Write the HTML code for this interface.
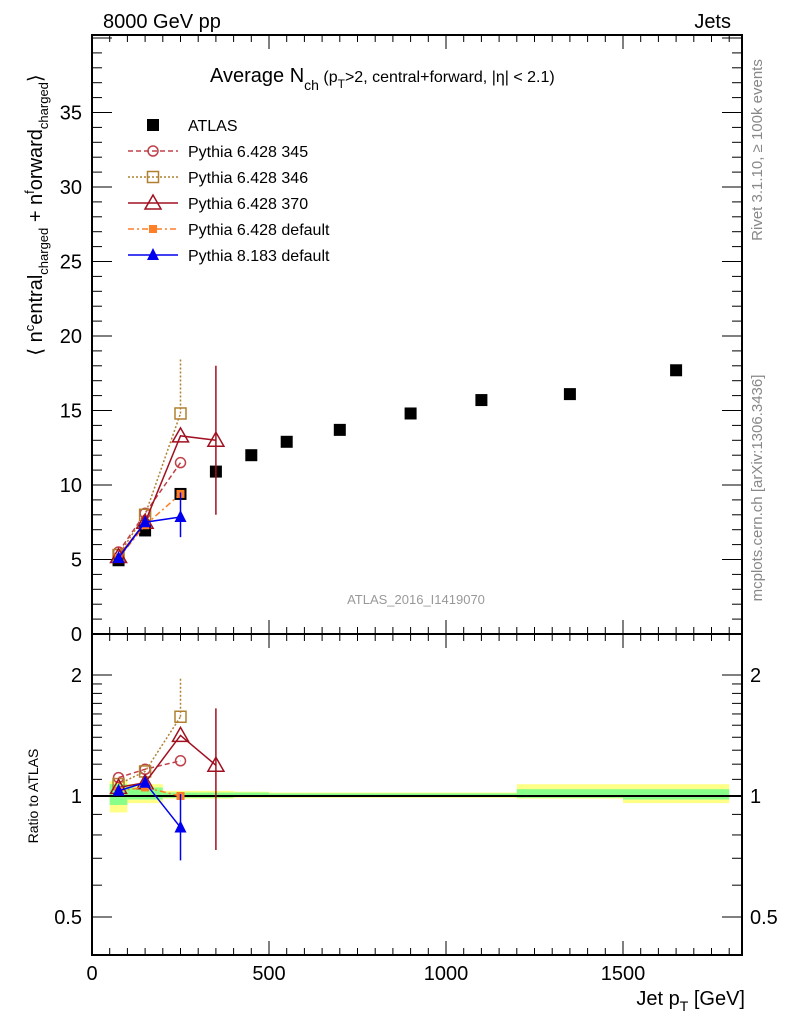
<!DOCTYPE html>
<html><head><meta charset="utf-8"><style>
body{margin:0;background:#fff;font-family:"Liberation Sans",sans-serif}
svg text{font-family:"Liberation Sans",sans-serif}
</style></head><body>
<svg id="c" width="786" height="1024" xmlns="http://www.w3.org/2000/svg">
<text x="103" y="28" font-size="20">8000 GeV pp</text>
<text x="731" y="28" font-size="20" text-anchor="end">Jets</text>
<text x="210" y="82" font-size="20">Average N<tspan font-size="14" dy="8">ch</tspan><tspan font-size="16" dy="-8"> (p</tspan><tspan font-size="12" dy="6">T</tspan><tspan font-size="16" dy="-6">&gt;2, central+forward, |η| &lt; 2.1)</tspan></text>
<text transform="translate(762,150) rotate(-90)" font-size="15" fill="#888" text-anchor="middle">Rivet 3.1.10, ≥ 100k events</text>
<text transform="translate(762,488) rotate(-90)" font-size="15" fill="#888" text-anchor="middle">mcplots.cern.ch [arXiv:1306.3436]</text>
<text x="416" y="604" font-size="13" fill="#999" text-anchor="middle">ATLAS_2016_I1419070</text>
<text transform="translate(42,215) rotate(-90)" font-size="20" text-anchor="middle">⟨ n<tspan font-size="13" dy="-8">c</tspan><tspan dy="8">entral</tspan><tspan font-size="13" dy="6">charged</tspan><tspan dy="-6"> + n</tspan><tspan font-size="13" dy="-8">f</tspan><tspan dy="8">orward</tspan><tspan font-size="13" dy="6">charged</tspan><tspan dy="-6">⟩</tspan></text>
<text transform="translate(38,796) rotate(-90)" font-size="14" text-anchor="middle">Ratio to ATLAS</text>
<text x="745" y="1005" font-size="20" text-anchor="end">Jet p<tspan font-size="14" dy="6">T</tspan><tspan dy="-6"> [GeV]</tspan></text>
<g id="g"></g>
</svg>
<script>
const xBins=[50,100,200,300,400,500,600,800,1000,1200,1500,1800];
const atlasX=[75,150,250,350,450,550,700,900,1100,1350,1650];
const atlasY=[4.95,6.95,9.4,10.9,12.0,12.9,13.7,14.8,15.7,16.1,17.7];
const bandGreenLo=[0.95,0.98,0.99,0.99,0.995,0.995,0.995,0.995,0.995,0.99,0.98];
const bandGreenHi=[1.07,1.05,1.02,1.02,1.02,1.015,1.015,1.015,1.015,1.04,1.04];
const bandYellowLo=[0.91,0.96,0.985,0.985,0.99,0.99,0.99,0.99,0.99,0.985,0.96];
const bandYellowHi=[1.09,1.07,1.03,1.03,1.025,1.02,1.02,1.02,1.02,1.07,1.07];
const mcX=[75,150,250,350];
const p345=[5.5,8.1,11.5];
const p346=[5.3,8.0,14.8];
const p346ErrHi=[null,null,18.5];
const p370=[5.2,7.5,13.3,13.0];
const p370ErrLo=[null,null,null,8.0];
const p370ErrHi=[null,null,null,18.0];
const p6def=[5.1,7.3,9.4];
const p8def=[5.1,7.5,7.85];
const p8ErrLo=[null,null,6.5];
const p8ErrHi=[null,null,9.5];
const yTicks=[0,5,10,15,20,25,30,35];
const rTicks=[0.5,1,2];
const xTicks=[0,500,1000,1500];

const L=92,R=742,T=35,MB=634,RB=955;
const X=v=>L+v*0.354;
const Y=v=>MB-v*14.9;
const RY=r=>796-Math.log2(r)*121;
const NS="http://www.w3.org/2000/svg";
const g=document.getElementById('g');
function el(t,a,name){const e=document.createElementNS(NS,t);for(const k in a)e.setAttribute(k,a[k]);


g.appendChild(e);return e;}
for(let i=0;i<atlasX.length;i++){
 el('rect',{x:X(xBins[i]),y:RY(bandYellowHi[i]),width:X(xBins[i+1])-X(xBins[i]),height:RY(bandYellowLo[i])-RY(bandYellowHi[i]),fill:'#ffff88'},'band-yellow');
 el('rect',{x:X(xBins[i]),y:RY(bandGreenHi[i]),width:X(xBins[i+1])-X(xBins[i]),height:RY(bandGreenLo[i])-RY(bandGreenHi[i]),fill:'#88ff88'},'band-green');
}
el('line',{x1:L,x2:R,y1:RY(1),y2:RY(1),stroke:'#000','stroke-width':2},'ratio-unity-line');
el('rect',{x:L,y:T,width:R-L,height:MB-T,fill:'none',stroke:'#000','stroke-width':2},'main-frame');
el('rect',{x:L,y:MB,width:R-L,height:RB-MB,fill:'none',stroke:'#000','stroke-width':2},'ratio-frame');
for(let v=0;v<=1800;v+=50){const maj=v%500==0;const len=maj?14:7;
 for(const [yb,yt] of [[MB,T],[RB,MB]]){
  el('line',{x1:X(v),x2:X(v),y1:yb,y2:yb-len,stroke:'#000'},'x-tick');
  el('line',{x1:X(v),x2:X(v),y1:yt,y2:yt+len,stroke:'#000'},'x-tick');}}
xTicks.forEach(v=>{const t=el('text',{x:X(v),y:980,'font-size':20,'text-anchor':'middle'},'x-tick-label');t.textContent=v;});
for(let v=0;v<=40;v++){const maj=v%5==0;const len=maj?20:10;if(Y(v)<T)break;
 el('line',{x1:L,x2:L+len,y1:Y(v),y2:Y(v),stroke:'#000'},'y-tick');
 el('line',{x1:R,x2:R-len,y1:Y(v),y2:Y(v),stroke:'#000'},'y-tick');}
yTicks.forEach(v=>{const t=el('text',{x:82,y:Y(v)+7,'font-size':20,'text-anchor':'end'},'y-tick-label');t.textContent=v;});
const rminor=[0.4,0.5,0.6,0.7,0.8,0.9,1,1.1,1.2,1.3,1.4,1.5,1.6,1.7,1.8,1.9,2];
rminor.forEach(r=>{const y=RY(r);if(y<MB||y>RB)return;const maj=rTicks.includes(r);const len=maj?20:10;
 el('line',{x1:L,x2:L+len,y1:y,y2:y,stroke:'#000'},'ratio-tick');
 el('line',{x1:R,x2:R-len,y1:y,y2:y,stroke:'#000'},'ratio-tick');});
rTicks.forEach(r=>{
 const t=el('text',{x:82,y:RY(r)+7,'font-size':20,'text-anchor':'end'},'ratio-tick-label');t.textContent=r;
 const t2=el('text',{x:750,y:RY(r)+7,'font-size':20},'ratio-tick-label-right');t2.textContent=r;});
function marker(type,cx,cy,color,name){
 if(type=='sq')el('rect',{x:cx-6,y:cy-6,width:12,height:12,fill:'#000'},name);
 else if(type=='osq')el('rect',{x:cx-5.5,y:cy-5.5,width:11,height:11,fill:'none',stroke:color,'stroke-width':1.5},name);
 else if(type=='circ')el('circle',{cx:cx,cy:cy,r:5,fill:'none',stroke:color,'stroke-width':1.5},name);
 else if(type=='otri')el('polygon',{points:`${cx},${cy-8} ${cx-8},${cy+6} ${cx+8},${cy+6}`,fill:'none',stroke:color,'stroke-width':1.5},name);
 else if(type=='tri')el('polygon',{points:`${cx},${cy-7} ${cx-6},${cy+5} ${cx+6},${cy+5}`,fill:color},name);
 else if(type=='ssq')el('rect',{x:cx-4,y:cy-4,width:8,height:8,fill:color},name);
}
function series(vals,type,color,dash,name,lo,hi){
 const ptsM=vals.map((v,i)=>[X(mcX[i]),Y(v)]);
 const ptsR=vals.map((v,i)=>[X(mcX[i]),RY(v/atlasY[i])]);
 for(const pts of [ptsM,ptsR])
  el('polyline',{points:pts.map(p=>p.join(',')).join(' '),fill:'none',stroke:color,'stroke-width':1.5,'stroke-dasharray':dash},name+'-line');
 vals.forEach((v,i)=>{
  if(hi&&hi[i]!=null){const l=lo&&lo[i]!=null?lo[i]:v;
   el('line',{x1:X(mcX[i]),x2:X(mcX[i]),y1:Y(l),y2:Y(hi[i]),stroke:color,'stroke-width':1.5,'stroke-dasharray':dash},name+'-error');
   el('line',{x1:X(mcX[i]),x2:X(mcX[i]),y1:RY(l/atlasY[i]),y2:RY(hi[i]/atlasY[i]),stroke:color,'stroke-width':1.5,'stroke-dasharray':dash},name+'-ratio-error');}
  marker(type,ptsM[i][0],ptsM[i][1],color,name+'-point');
  marker(type,ptsR[i][0],ptsR[i][1],color,name+'-ratio-point');});
}
atlasX.forEach((x,i)=>marker('sq',X(x),Y(atlasY[i]),'#000','atlas-point'));
series(p345,'circ','#c0404a','5,3','pythia6-345');
series(p346,'osq','#b08030','2,2','pythia6-346',null,p346ErrHi);
series(p370,'otri','#a01020','','pythia6-370',p370ErrLo,p370ErrHi);
series(p6def,'ssq','#ff7f27','6,3,2,3','pythia6-default');
series(p8def,'tri','#0000ee','','pythia8-default',p8ErrLo,p8ErrHi);
const leg=[['sq','#000','','ATLAS'],['circ','#c0404a','5,3','Pythia 6.428 345'],['osq','#b08030','2,2','Pythia 6.428 346'],['otri','#a01020','','Pythia 6.428 370'],['ssq','#ff7f27','6,3,2,3','Pythia 6.428 default'],['tri','#0000ee','','Pythia 8.183 default']];
leg.forEach((l,i)=>{const y=125+i*26;
 if(i>0)el('line',{x1:128,x2:178,y1:y,y2:y,stroke:l[1],'stroke-width':1.5,'stroke-dasharray':l[2]},'legend-line');
 marker(l[0],153,y,l[1],'legend-marker');
 const t=el('text',{x:188,y:y+6,'font-size':16},'legend-entry');t.textContent=l[3];});
</script>
</body></html>
